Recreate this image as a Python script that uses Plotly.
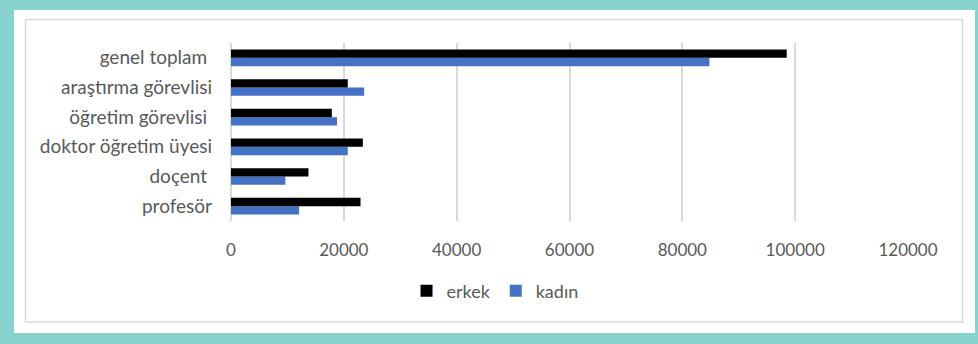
import plotly.graph_objects as go

categories = ["profesör", "doçent ", "doktor öğretim üyesi", "öğretim görevlisi ", "araştırma görevlisi", "genel toplam "]
erkek = [22960, 13730, 23370, 17870, 20700, 98500]
kadin = [12070, 9640, 20700, 18800, 23600, 84800]
x_ticks = [0, 20000, 40000, 60000, 80000, 100000, 120000]

W, H = 978, 344
L, R, T, B = 231, 908, 43, 221
pw, ph = R - L, B - T

def px(x):
    return (x - L) / pw

def py(y):
    return (B - y) / ph

FONT = "Lato"
TXT = "#595959"

fig = go.Figure()
fig.add_trace(go.Bar(name="kadın", y=categories, x=kadin, orientation="h",
                     marker=dict(color="#4472C4", line=dict(width=0))))
fig.add_trace(go.Bar(name="erkek", y=categories, x=erkek, orientation="h",
                     marker=dict(color="#000000", line=dict(width=0))))

fig.update_layout(
    width=W, height=H,
    margin=dict(l=L, r=W - R, t=T, b=H - B, pad=0),
    paper_bgcolor="#88D3CD",
    plot_bgcolor="rgba(0,0,0,0)",
    barmode="group",
    bargap=0.44,
    bargroupgap=0,
    font=dict(family=FONT, color=TXT, size=17),
    showlegend=True,
    legend=dict(orientation="h", traceorder="reversed", x=0.39, xanchor="center",
                y=py(291), yanchor="middle", font=dict(size=18, color=TXT, family=FONT),
                bgcolor="rgba(0,0,0,0)", itemwidth=30, tracegroupgap=0),
    xaxis=dict(range=[0, 120000], tickvals=x_ticks, ticktext=[str(v) for v in x_ticks],
               showgrid=True, gridcolor="#D9D9D9", gridwidth=1.5, zeroline=True,
               zerolinecolor="#D9D9D9", zerolinewidth=1.5, showline=False,
               ticks="", ticklen=0, ticklabelstandoff=17,
               tickfont=dict(size=17, color=TXT, family=FONT)),
    yaxis=dict(showgrid=False, zeroline=False, showline=False, ticks="",
               ticklabelstandoff=18,
               tickfont=dict(size=19, color=TXT, family=FONT)),
    shapes=[
        dict(type="rect", xref="paper", yref="paper", layer="below",
             x0=px(14), x1=px(975), y0=py(333), y1=py(10),
             fillcolor="white", line=dict(width=0)),
        dict(type="rect", xref="paper", yref="paper", layer="below",
             x0=px(25.5), x1=px(962.5), y0=py(322), y1=py(19.5),
             fillcolor="white", line=dict(color="#D9D9D9", width=1.5)),
    ],
)

fig.write_html("out.html")
